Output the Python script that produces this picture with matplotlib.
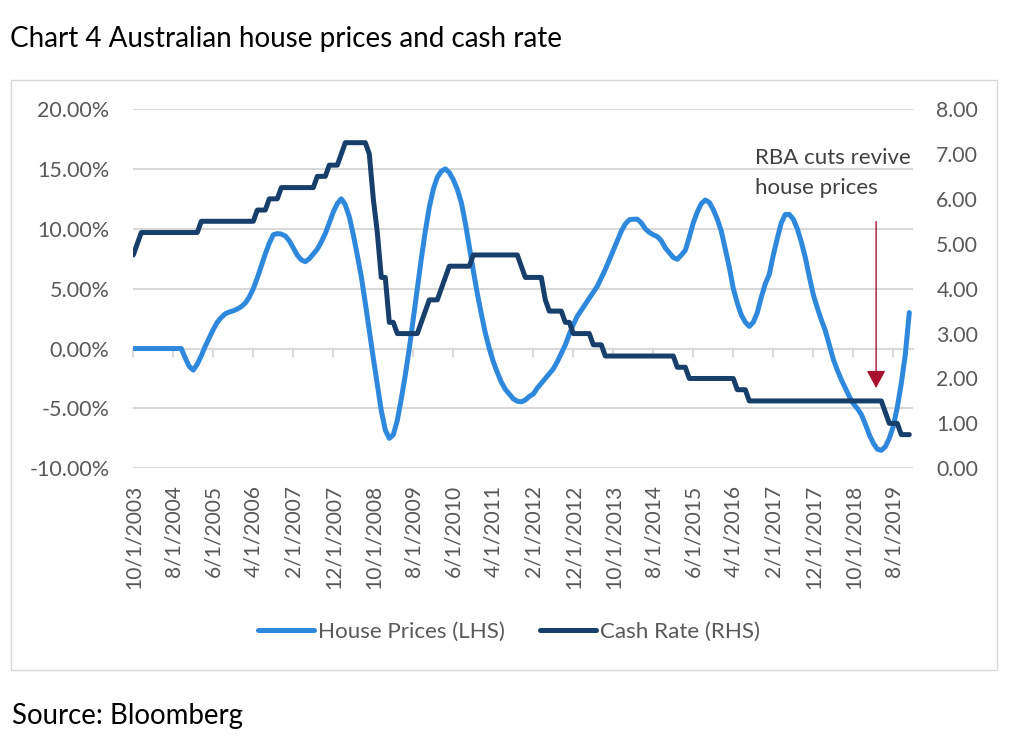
import matplotlib
matplotlib.use("Agg")
import matplotlib.pyplot as plt
import numpy as np
import pandas as pd
from matplotlib.ticker import FuncFormatter
from matplotlib.patches import Rectangle
from matplotlib.lines import Line2D

# ---------------- data (monthly, Oct-2003 .. Dec-2019) ----------------
start_month = "2003-10-01"

house_prices = [
    # 2003 (Oct-Dec)
    0.0, 0.0, 0.0,
    # 2004
    0.0, 0.0, 0.0, 0.0, 0.0, 0.0, 0.0, 0.0, 0.0, 0.0, -0.8, -1.5,
    # 2005
    -1.8, -1.3, -0.6, 0.2, 0.9, 1.6, 2.2, 2.6, 2.9, 3.05, 3.15, 3.3,
    # 2006
    3.5, 3.8, 4.3, 5.0, 5.9, 6.9, 7.9, 8.8, 9.5, 9.6, 9.55, 9.4,
    # 2007
    9.0, 8.4, 7.8, 7.4, 7.25, 7.5, 7.9, 8.3, 8.9, 9.6, 10.5, 11.4,
    # 2008
    12.1, 12.5, 12.0, 11.0, 9.5, 7.8, 6.0, 3.8, 1.5, -0.8, -3.0, -5.2,
    # 2009
    -6.8, -7.5, -7.2, -6.0, -4.2, -2.2, 0.0, 2.5, 5.0, 7.5, 9.8, 11.8,
    # 2010
    13.3, 14.3, 14.8, 15.0, 14.7, 14.1, 13.3, 12.2, 10.5, 8.5, 6.5, 4.6,
    # 2011
    2.9, 1.3, 0.0, -1.1, -2.0, -2.8, -3.4, -3.8, -4.2, -4.4, -4.45, -4.3,
    # 2012
    -4.0, -3.8, -3.3, -2.9, -2.5, -2.1, -1.7, -1.1, -0.4, 0.3, 1.2, 2.0,
    # 2013
    2.7, 3.2, 3.7, 4.2, 4.7, 5.2, 5.9, 6.6, 7.4, 8.2, 9.0, 9.8,
    # 2014
    10.4, 10.75, 10.8, 10.8, 10.5, 10.0, 9.7, 9.5, 9.35, 9.0, 8.4, 8.0,
    # 2015
    7.6, 7.45, 7.8, 8.2, 9.3, 10.5, 11.4, 12.1, 12.4, 12.2, 11.6, 10.8,
    # 2016
    9.8, 8.3, 6.8, 5.0, 3.8, 2.8, 2.2, 1.85, 2.2, 3.0, 4.3, 5.4,
    # 2017
    6.2, 7.8, 9.2, 10.5, 11.2, 11.2, 10.8, 10.0, 8.9, 7.6, 6.0, 4.5,
    # 2018
    3.4, 2.4, 1.5, 0.3, -0.9, -1.8, -2.6, -3.3, -4.0, -4.6, -5.0, -5.5,
    # 2019
    -6.3, -7.2, -7.9, -8.4, -8.5, -8.2, -7.5, -6.5, -4.9, -2.9, -0.5, 3.0,
]

cash_rate = [
    # 2003 (Oct-Dec)
    4.75, 5.00, 5.25,
    # 2004
    5.25, 5.25, 5.25, 5.25, 5.25, 5.25, 5.25, 5.25, 5.25, 5.25, 5.25, 5.25,
    # 2005
    5.25, 5.25, 5.50, 5.50, 5.50, 5.50, 5.50, 5.50, 5.50, 5.50, 5.50, 5.50,
    # 2006
    5.50, 5.50, 5.50, 5.50, 5.75, 5.75, 5.75, 6.00, 6.00, 6.00, 6.25, 6.25,
    # 2007
    6.25, 6.25, 6.25, 6.25, 6.25, 6.25, 6.25, 6.50, 6.50, 6.50, 6.75, 6.75,
    # 2008
    6.75, 7.00, 7.25, 7.25, 7.25, 7.25, 7.25, 7.25, 7.00, 6.00, 5.25, 4.25,
    # 2009
    4.25, 3.25, 3.25, 3.00, 3.00, 3.00, 3.00, 3.00, 3.00, 3.25, 3.50, 3.75,
    # 2010
    3.75, 3.75, 4.00, 4.25, 4.50, 4.50, 4.50, 4.50, 4.50, 4.50, 4.75, 4.75,
    # 2011
    4.75, 4.75, 4.75, 4.75, 4.75, 4.75, 4.75, 4.75, 4.75, 4.75, 4.50, 4.25,
    # 2012
    4.25, 4.25, 4.25, 4.25, 3.75, 3.50, 3.50, 3.50, 3.50, 3.25, 3.25, 3.00,
    # 2013
    3.00, 3.00, 3.00, 3.00, 2.75, 2.75, 2.75, 2.50, 2.50, 2.50, 2.50, 2.50,
    # 2014
    2.50, 2.50, 2.50, 2.50, 2.50, 2.50, 2.50, 2.50, 2.50, 2.50, 2.50, 2.50,
    # 2015
    2.50, 2.25, 2.25, 2.25, 2.00, 2.00, 2.00, 2.00, 2.00, 2.00, 2.00, 2.00,
    # 2016
    2.00, 2.00, 2.00, 2.00, 1.75, 1.75, 1.75, 1.50, 1.50, 1.50, 1.50, 1.50,
    # 2017
    1.50, 1.50, 1.50, 1.50, 1.50, 1.50, 1.50, 1.50, 1.50, 1.50, 1.50, 1.50,
    # 2018
    1.50, 1.50, 1.50, 1.50, 1.50, 1.50, 1.50, 1.50, 1.50, 1.50, 1.50, 1.50,
    # 2019
    1.50, 1.50, 1.50, 1.50, 1.50, 1.25, 1.00, 1.00, 1.00, 0.75, 0.75, 0.75,
]

series_labels = ["House Prices (LHS)", "Cash Rate (RHS)"]
title_text = "Chart 4 Australian house prices and cash rate"
source_text = "Source: Bloomberg"
note_lines = ["RBA cuts revive", "house prices"]
note_month = "2019-03-01"          # arrow position (category)
note_arrow_from, note_arrow_to = 10.6, -3.3   # LHS values

left_ticks = [-10, -5, 0, 5, 10, 15, 20]
right_ticks = [0, 1, 2, 3, 4, 5, 6, 7, 8]
tick_every = 10

# ---------------- styling ----------------
FONT = "Lato"
C_LIGHT = "#2E88DC"
C_DARK = "#173F6B"
C_GRID = "#D9D9D9"
C_TXT = "#595959"
C_ARROW = "#A8122E"
W, H = 1024, 747

fig = plt.figure(figsize=(W / 100, H / 100), dpi=100)
renderer = fig.canvas.get_renderer()


def fit(s, target_px, base=20.0):
    t = fig.text(0, 0, s, fontsize=base, family=FONT)
    w = t.get_window_extent(renderer).width
    t.remove()
    return base * target_px / w


def fx(px):
    return px / W


def fy(py):
    return 1 - py / H


PX2PT = 72 / 100

months = pd.date_range(start_month, periods=len(house_prices), freq="MS")
x = np.arange(len(months))

ax_l, ax_r, ax_t, ax_b = 133.3, 913.3, 109.0, 468.3
ax = fig.add_axes([fx(ax_l), fy(ax_b), (ax_r - ax_l) / W, (ax_b - ax_t) / H])
ax.set_xlim(0, len(months))
ax.set_ylim(left_ticks[0], left_ticks[-1])
ax.set_yticks(left_ticks)
ax.yaxis.grid(True, color=C_GRID, lw=1.5)
ax.set_axisbelow(True)
for s in ax.spines.values():
    s.set_visible(False)

fs_y = fit("20.00%", 72)
fs_r = fit("8.00", 42)
fs_x = fit("10/1/2003", 104)

ax.yaxis.set_major_formatter(FuncFormatter(lambda v, p: f"{v:.2f}%"))
ax.tick_params(axis="y", length=0, pad=24 * PX2PT, labelsize=fs_y, labelcolor=C_TXT)
for lab in ax.get_yticklabels():
    lab.set_family(FONT)

tick_pos = x[::tick_every]
tick_lab = [f"{m.month}/1/{m.year}" for m in months[::tick_every]]
ax.set_xticks(tick_pos)
ax.set_xticklabels(tick_lab, rotation=90, family=FONT, fontsize=fs_x, color=C_TXT)
ax.tick_params(axis="x", length=0, pad=(485 - ax_b) * PX2PT)

# category axis line + tick marks crossing at 0%
zero_frac = (0 - left_ticks[0]) / (left_ticks[-1] - left_ticks[0])
sec = ax.secondary_xaxis(zero_frac)
sec.set_xticks(tick_pos)
sec.set_xticklabels([])
sec.tick_params(axis="x", length=8 * PX2PT, width=1.5, color=C_GRID, direction="out")
sec.spines["bottom"].set_color(C_GRID)
sec.spines["bottom"].set_linewidth(1.5)
for k in ("top", "left", "right"):
    sec.spines[k].set_visible(False)

lw = 5 * PX2PT
ax.plot(x, house_prices, color=C_LIGHT, lw=lw, solid_capstyle="round",
        solid_joinstyle="round", zorder=3)

ax2 = ax.twinx()
ax2.set_ylim(right_ticks[0], right_ticks[-1])
ax2.set_yticks(right_ticks)
ax2.yaxis.set_major_formatter(FuncFormatter(lambda v, p: f"{v:.2f}"))
ax2.tick_params(axis="y", length=0, pad=23 * PX2PT, labelsize=fs_r, labelcolor=C_TXT)
for lab in ax2.get_yticklabels():
    lab.set_family(FONT)
for s in ax2.spines.values():
    s.set_visible(False)
ax2.plot(x, cash_rate, color=C_DARK, lw=lw, solid_capstyle="round",
         solid_joinstyle="round", zorder=3)

# annotation arrow
xa = months.get_loc(pd.Timestamp(note_month)) + 0.7
ax.annotate("", xy=(xa, note_arrow_to), xytext=(xa, note_arrow_from),
            arrowprops=dict(arrowstyle="-|>,head_length=1.08,head_width=0.58",
                            mutation_scale=10, color=C_ARROW, lw=1.0,
                            shrinkA=0, shrinkB=0), zorder=5)

fs_note = fit(note_lines[0], 156)
for line, base_y in zip(note_lines, (164.5, 193.5)):
    fig.text(fx(755), fy(base_y), line, family=FONT, fontsize=fs_note,
             color="#404040", va="baseline", ha="left")

# title & source
fs_title = fit(title_text, 552)
fig.text(fx(10), fy(46.5), title_text, family=FONT, fontsize=fs_title,
         color="black", va="baseline", ha="left")
fs_src = fit(source_text, 231)
fig.text(fx(12), fy(724), source_text, family=FONT, fontsize=fs_src,
         color="black", va="baseline", ha="left")

# legend
fs_leg = fit(series_labels[0], 187)
fs_leg_px = fs_leg / PX2PT
handles = [Line2D([], [], color=C_LIGHT, lw=lw, solid_capstyle="round"),
           Line2D([], [], color=C_DARK, lw=lw, solid_capstyle="round")]
leg = fig.legend(handles, series_labels, loc="center",
                 bbox_to_anchor=(fx(509), fy(632)), ncol=2, frameon=False,
                 prop={"family": FONT, "size": fs_leg},
                 handlelength=56 / fs_leg_px, handletextpad=4 / fs_leg_px,
                 columnspacing=36 / fs_leg_px, labelcolor=C_TXT)

# outer chart border
fig.add_artist(Rectangle((fx(11), fy(670)), (997 - 11) / W, (670 - 80) / H,
                         transform=fig.transFigure, fill=False,
                         edgecolor=C_GRID, lw=1.0))

fig.savefig("out.png", dpi=100, facecolor="white")
